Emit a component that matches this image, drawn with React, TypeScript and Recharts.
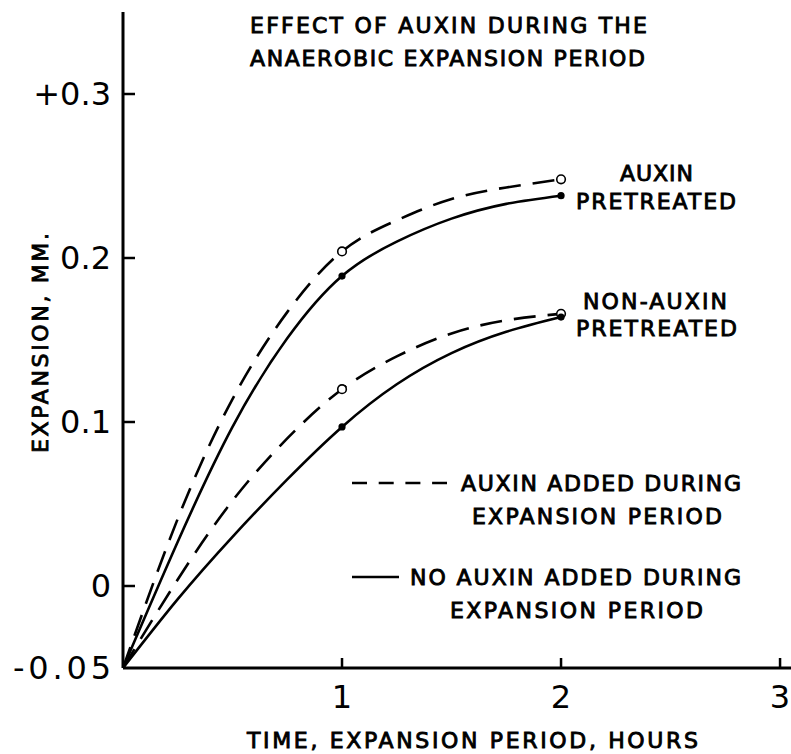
import React from "react";
import { Line, LineChart, XAxis, YAxis } from "recharts";

// hours into the anaerobic expansion period
const hours = [0, 0.25, 0.5, 0.75, 1, 1.25, 1.5, 1.75, 2];

// expansion in mm
const auxinPretreatedAuxinAdded = [-0.05, 0.041, 0.114, 0.167, 0.204, 0.223, 0.236, 0.243, 0.248];
const auxinPretreatedNoAuxin = [-0.05, 0.027, 0.097, 0.151, 0.189, 0.21, 0.224, 0.233, 0.238];
const nonAuxinPretreatedAuxinAdded = [-0.05, 0.004, 0.052, 0.09, 0.12, 0.14, 0.154, 0.162, 0.166];
const nonAuxinPretreatedNoAuxin = [-0.05, -0.008, 0.03, 0.065, 0.097, 0.123, 0.142, 0.155, 0.164];

// measured points carry a marker
const markedHours = [1, 2];

const xTicks = [1, 2, 3];
const yTicks = [-0.05, 0, 0.1, 0.2, 0.3];
const yTickLabels = ["-0.05", "0", "0.1", "0.2", "+0.3"];

const data = hours.map((hour, i) => ({
  hour,
  apAdded: auxinPretreatedAuxinAdded[i],
  apNone: auxinPretreatedNoAuxin[i],
  npAdded: nonAuxinPretreatedAuxinAdded[i],
  npNone: nonAuxinPretreatedNoAuxin[i]
}));

const W = 791;
const H = 754;
const PLOT_LEFT = 123;
const PLOT_TOP = 12;
const PLOT_BOTTOM = 668;
const FONT = "'DejaVu Sans', sans-serif";
const DASH = "22 12";

function OpenDot(props: any) {
  const { cx, cy, payload, index } = props;
  if (!markedHours.includes(payload.hour)) return <g key={`o${index}`} />;
  return <circle key={`o${index}`} cx={cx} cy={cy} r={4.3} fill="#fff" stroke="#000" strokeWidth={1.6} />;
}

function FilledDot(props: any) {
  const { cx, cy, payload, index } = props;
  if (!markedHours.includes(payload.hour)) return <g key={`f${index}`} />;
  return <circle key={`f${index}`} cx={cx} cy={cy} r={3.6} fill="#000" />;
}

function XTick(props: any) {
  const { x, payload } = props;
  return (
    <g>
      <line x1={x} x2={x} y1={PLOT_BOTTOM} y2={PLOT_BOTTOM - 10} stroke="#000" strokeWidth={2.5} />
      <text x={x} y={697} textAnchor="middle" dominantBaseline="central" fontFamily={FONT} fontSize={32} fill="#000">
        {payload.value}
      </text>
    </g>
  );
}

function YTick(props: any) {
  const { y, payload } = props;
  const i = yTicks.indexOf(payload.value);
  const label = yTickLabels[i];
  return (
    <g>
      {payload.value !== -0.05 && (
        <line x1={PLOT_LEFT} x2={PLOT_LEFT + 12} y1={y} y2={y} stroke="#000" strokeWidth={2.5} />
      )}
      <text
        x={111}
        y={y}
        textAnchor="end"
        dominantBaseline="central"
        fontFamily={FONT}
        fontSize={32}
        fill="#000"
        {...(label === "-0.05" ? { textLength: 98, lengthAdjust: "spacing" } : {})}
      >
        {label}
      </text>
    </g>
  );
}

type Caption = { text: string; x: number; y: number; w: number };

const captions: Caption[] = [
  { text: "EFFECT OF AUXIN DURING THE", x: 250, y: 25, w: 397 },
  { text: "ANAEROBIC EXPANSION PERIOD", x: 250, y: 58, w: 395 },
  { text: "AUXIN", x: 620, y: 173, w: 73 },
  { text: "PRETREATED", x: 576, y: 201, w: 160 },
  { text: "NON-AUXIN", x: 583, y: 301, w: 144 },
  { text: "PRETREATED", x: 576, y: 328, w: 161 },
  { text: "AUXIN ADDED DURING", x: 461, y: 483, w: 280 },
  { text: "EXPANSION PERIOD", x: 472, y: 516, w: 250 },
  { text: "NO AUXIN ADDED DURING", x: 410, y: 577, w: 331 },
  { text: "EXPANSION PERIOD", x: 450, y: 610, w: 253 },
  { text: "TIME, EXPANSION PERIOD, HOURS", x: 247, y: 740, w: 451 }
];

const captionStyle = {
  fontFamily: FONT,
  fontSize: 22,
  fill: "#000",
  stroke: "#000",
  strokeWidth: 0.9
};

function Overlay() {
  return (
    <svg width={W} height={H} style={{ position: "absolute", left: 0, top: 0, pointerEvents: "none" }}>
      {captions.map((c, i) => (
        <text
          key={i}
          x={c.x}
          y={c.y}
          dominantBaseline="central"
          style={captionStyle}
          textLength={c.w}
          lengthAdjust="spacing"
        >
          {c.text}
        </text>
      ))}
      <text
        x={40}
        y={343}
        transform="rotate(-90 40 343)"
        textAnchor="middle"
        dominantBaseline="central"
        style={captionStyle}
        textLength={220}
        lengthAdjust="spacing"
      >
        EXPANSION, MM.
      </text>
      {/* legend samples */}
      <line x1={352} x2={447} y1={483} y2={483} stroke="#000" strokeWidth={2.6} strokeDasharray="15 11.7" />
      <line x1={352} x2={399} y1={577} y2={577} stroke="#000" strokeWidth={2.6} />
    </svg>
  );
}

export default function App() {
  return (
    <div style={{ position: "absolute", left: 0, top: 0, width: W, height: H, background: "#fff", overflow: "hidden" }}>
      <LineChart width={W} height={H} data={data} margin={{ top: PLOT_TOP, right: 0, bottom: 0, left: 0 }}>
        <XAxis
          dataKey="hour"
          type="number"
          domain={[0, 3.05]}
          ticks={xTicks}
          height={H - PLOT_BOTTOM}
          axisLine={{ stroke: "#000", strokeWidth: 3 }}
          tickLine={false}
          tick={<XTick />}
          allowDataOverflow
        />
        <YAxis
          type="number"
          domain={[-0.05, 0.35]}
          ticks={yTicks}
          width={PLOT_LEFT}
          axisLine={{ stroke: "#000", strokeWidth: 3 }}
          tickLine={false}
          tick={<YTick />}
          allowDataOverflow
        />
        <Line type="natural" dataKey="apAdded" stroke="#000" strokeWidth={2.6} strokeDasharray={DASH} dot={OpenDot} activeDot={false} isAnimationActive={false} />
        <Line type="natural" dataKey="apNone" stroke="#000" strokeWidth={2.6} dot={FilledDot} activeDot={false} isAnimationActive={false} />
        <Line type="natural" dataKey="npAdded" stroke="#000" strokeWidth={2.6} strokeDasharray={DASH} dot={OpenDot} activeDot={false} isAnimationActive={false} />
        <Line type="natural" dataKey="npNone" stroke="#000" strokeWidth={2.6} dot={FilledDot} activeDot={false} isAnimationActive={false} />
      </LineChart>
      <Overlay />
    </div>
  );
}
